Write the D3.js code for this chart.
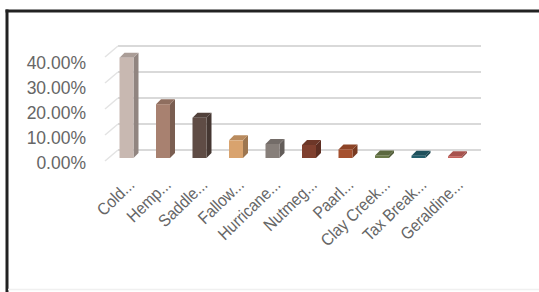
<!DOCTYPE html>
<html><head><meta charset="utf-8">
<script src="https://cdn.jsdelivr.net/npm/d3@7"></script>
<style>html,body{margin:0;padding:0;background:#fff;overflow:hidden}</style>
</head><body><svg id="c" width="539" height="292"></svg>
<script>
const categories = ["Cold...","Hemp...","Saddle...","Fallow...","Hurricane...","Nutmeg...","Paarl...","Clay Creek...","Tax Break...","Geraldine..."];
const values = [38.6, 20.7, 15.5, 6.8, 5.4, 5.0, 3.3, 1.0, 0.9, 0.7];
const colors = ["#c8b8b1","#a88170","#5f4c45","#d9a36e","#877f7a","#80402f","#a5502e","#6b7a4a","#245f6d","#c4625c"];
const yTicks = [0, 10, 20, 30, 40];
const yTickLabels = ["0.00%","10.00%","20.00%","30.00%","40.00%"];

const FONT = "'Liberation Sans', Arial, sans-serif";
const svg = d3.select("#c");
// frame
svg.append("rect").attr("x",0).attr("y",0).attr("width",539).attr("height",292).attr("fill","#fff");
svg.append("line").attr("x1",5.5).attr("x2",539).attr("y1",11).attr("y2",11).attr("stroke","#222").attr("stroke-width",3);
svg.append("line").attr("x1",7).attr("x2",7).attr("y1",9.5).attr("y2",292).attr("stroke","#222").attr("stroke-width",3);
svg.append("line").attr("x1",8).attr("x2",539).attr("y1",289.5).attr("y2",289.5).attr("stroke","#f0f0f0").attr("stroke-width",1.5);

const backX0 = 118, backX1 = 481;
const depthDX = -13, depthDY = 11;
const yBack = d3.scaleLinear().domain([0,40]).range([150,46]);
const yFront = d3.scaleLinear().domain([0,40]).range([158,54]);
const yLab = d3.scaleLinear().domain([0,40]).range([163,63]);
const x = d3.scalePoint().domain(categories).range([126.5, 455]);

// gridlines + diagonals
const g = svg.append("g");
yTicks.forEach(t => {
  g.append("line").attr("x1",backX0).attr("x2",backX1).attr("y1",yBack(t)).attr("y2",yBack(t))
    .attr("stroke","#d9d9d9").attr("stroke-width",2);
  g.append("line").attr("x1",backX0).attr("x2",backX0+depthDX).attr("y1",yBack(t)).attr("y2",yBack(t)+depthDY)
    .attr("stroke","#e3e3e3").attr("stroke-width",1.5);
});

// y axis labels
const yAxis = d3.axisLeft(yLab).tickValues(yTicks).tickFormat((d,i)=>yTickLabels[i]).tickSize(0).tickPadding(0);
const ya = svg.append("g").attr("transform","translate(86,0)").call(yAxis);
ya.select(".domain").remove();
ya.selectAll("text").attr("font-family",FONT).attr("font-size",17.5)
  .attr("fill","#666");

// bars
const bw = 14, sd = 5;
const bars = svg.append("g");
categories.forEach((c,i) => {
  const cx = x(c), x0 = cx - bw/2, x1 = cx + bw/2;
  const yt = yFront(values[i]), yb = yFront(0);
  const col = d3.color(colors[i]);
  bars.append("path").attr("d",`M${x1},${yt}L${x1+sd},${yt-sd}L${x1+sd},${yb-sd}L${x1},${yb}Z`)
    .attr("fill", col.darker(0.9));
  bars.append("path").attr("d",`M${x0},${yt}L${x0+sd},${yt-sd}L${x1+sd},${yt-sd}L${x1},${yt}Z`)
    .attr("fill", col.darker(0.45));
  bars.append("rect").attr("x",x0).attr("y",yt).attr("width",bw).attr("height",yb-yt).attr("fill",col);
});

// category labels
const lab = svg.append("g");
categories.forEach(c => {
  lab.append("text").attr("transform",`translate(${x(c)+9},${186}) rotate(-44) scale(0.9,1)`)
    .attr("text-anchor","end").attr("font-family",FONT)
    .attr("font-size",17).attr("fill","#666").text(c);
});
</script></body></html>
